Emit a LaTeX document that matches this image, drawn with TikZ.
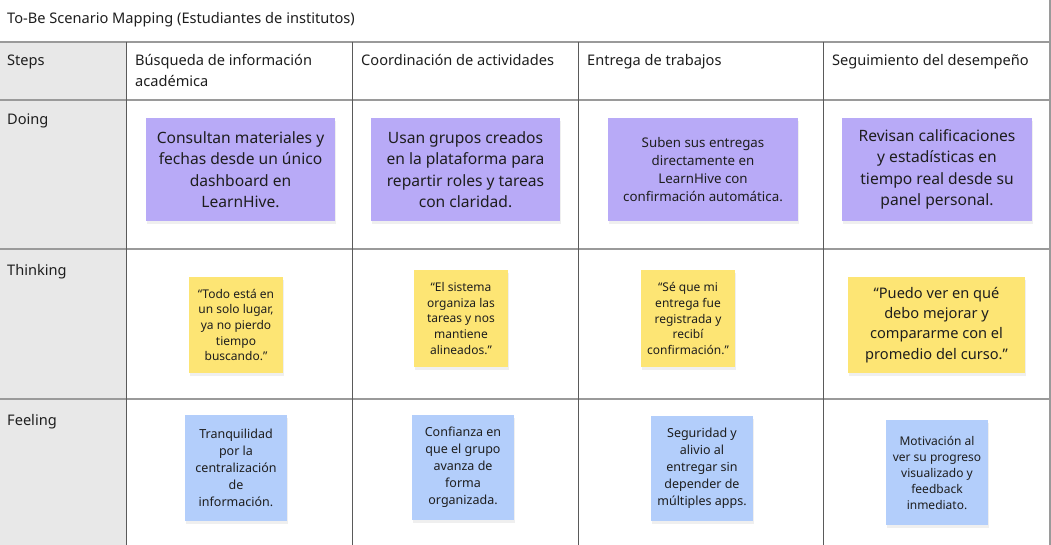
\documentclass[tikz,border=0pt]{standalone}
\usepackage{fontspec}
\setmainfont{Noto Sans}
\usetikzlibrary{shadows}
\definecolor{ink}{HTML}{1E1E1E}
\definecolor{stepgrey}{HTML}{E8E8E8}
\definecolor{hline}{HTML}{9A9A9A}
\definecolor{vline}{HTML}{5A5A5A}
\definecolor{doingc}{HTML}{B8AAF7}
\definecolor{thinkc}{HTML}{FDE574}
\definecolor{feelc}{HTML}{B3CEFB}
\tikzset{
  lbl/.style={anchor=base west, inner sep=0pt, text=ink, align=left, font=\fontsize{14.6}{21}\selectfont},
  sticky/.style={inner sep=0pt, align=center, text=ink,
    drop shadow={opacity=0.12, shadow xshift=1pt, shadow yshift=-3pt}},
  doingnote/.style={sticky, fill=doingc},
  thinknote/.style={sticky, fill=thinkc},
  feelnote/.style={sticky, fill=feelc},
  hrule/.style={draw=hline, line width=1.2pt},
  vrule/.style={draw=vline, line width=1pt},
}
\begin{document}
\begin{tikzpicture}[x=1pt,y=-1pt]
\useasboundingbox (0,0) rectangle (1051,545);
\fill[white] (0,0) rectangle (1051,545);
\fill[stepgrey] (0,42) rectangle (126,545);
% grid
\draw[hrule] (0,42) -- (1050,42);
\draw[hrule] (0,100) -- (1050,100);
\draw[hrule] (0,249) -- (1050,249);
\draw[hrule] (0,399) -- (1050,399);
\draw[vrule] (126,42) -- (126,545);
\draw[vrule] (352,42) -- (352,545);
\draw[vrule] (578,42) -- (578,545);
\draw[vrule] (823,42) -- (823,545);
\draw[draw=hline, line width=1.2pt] (1050,0) -- (1050,545);
% title and labels
\node[lbl] (title) at (7,24) {To-Be Scenario Mapping (Estudiantes de institutos)};
\node[lbl] (steps) at (7,66) {Steps};
\node[lbl] (doing) at (7,125) {Doing};
\node[lbl] (thinking) at (7,275) {Thinking};
\node[lbl] (feeling) at (7,425) {Feeling};
\node[lbl] (h1) at (135,87) {Búsqueda de información\\académica};
\node[lbl] (h2) at (361,66) {Coordinación de actividades};
\node[lbl] (h3) at (587,66) {Entrega de trabajos};
\node[lbl] (h4) at (832,66) {Seguimiento del desempeño};
% doing
\node[doingnote, minimum width=189pt, minimum height=103pt, font=\fontsize{15.6}{21.5}\selectfont] (d1) at (240.5,169.5) {Consultan materiales y\\fechas desde un único\\dashboard en\\LearnHive.};
\node[doingnote, minimum width=189pt, minimum height=103pt, font=\fontsize{15.6}{21.5}\selectfont] (d2) at (465.5,169.5) {Usan grupos creados\\en la plataforma para\\repartir roles y tareas\\con claridad.};
\node[doingnote, minimum width=190pt, minimum height=103pt, font=\fontsize{13.3}{17.7}\selectfont] (d3) at (703,169.5) {Suben sus entregas\\directamente en\\LearnHive con\\confirmación automática.};
\node[doingnote, minimum width=190pt, minimum height=103pt, font=\fontsize{15.6}{21.5}\selectfont] (d4) at (937,169.5) {Revisan calificaciones\\y estadísticas en\\tiempo real desde su\\panel personal.};
% thinking
\node[thinknote, minimum width=94pt, minimum height=96pt, font=\fontsize{12}{15.7}\selectfont] (t1) at (236,325) {“Todo está en\\un solo lugar,\\ya no pierdo\\tiempo\\buscando.”};
\node[thinknote, minimum width=94pt, minimum height=97pt, font=\fontsize{12}{15.7}\selectfont] (t2) at (461,318.5) {“El sistema\\organiza las\\tareas y nos\\mantiene\\alineados.”};
\node[thinknote, minimum width=94pt, minimum height=97pt, font=\fontsize{12}{15.7}\selectfont] (t3) at (688,318.5) {“Sé que mi\\entrega fue\\registrada y\\recibí\\confirmación.”};
\node[thinknote, minimum width=177pt, minimum height=96pt, font=\fontsize{14.6}{20.3}\selectfont] (t4) at (936.5,325) {“Puedo ver en qué\\debo mejorar y\\compararme con el\\promedio del curso.”};
% feeling
\node[feelnote, minimum width=102pt, minimum height=106pt, font=\fontsize{12.5}{17}\selectfont] (f1) at (236,468) {Tranquilidad\\por la\\centralización\\de\\información.};
\node[feelnote, minimum width=102pt, minimum height=105pt, font=\fontsize{12.5}{17}\selectfont] (f2) at (463,467.5) {Confianza en\\que el grupo\\avanza de\\forma\\organizada.};
\node[feelnote, minimum width=102pt, minimum height=105pt, font=\fontsize{12.5}{17}\selectfont] (f3) at (702,468.5) {Seguridad y\\alivio al\\entregar sin\\depender de\\múltiples apps.};
\node[feelnote, minimum width=102pt, minimum height=105pt, font=\fontsize{12}{16}\selectfont] (f4) at (937,472.5) {Motivación al\\ver su progreso\\visualizado y\\feedback\\inmediato.};
\end{tikzpicture}
\end{document}
